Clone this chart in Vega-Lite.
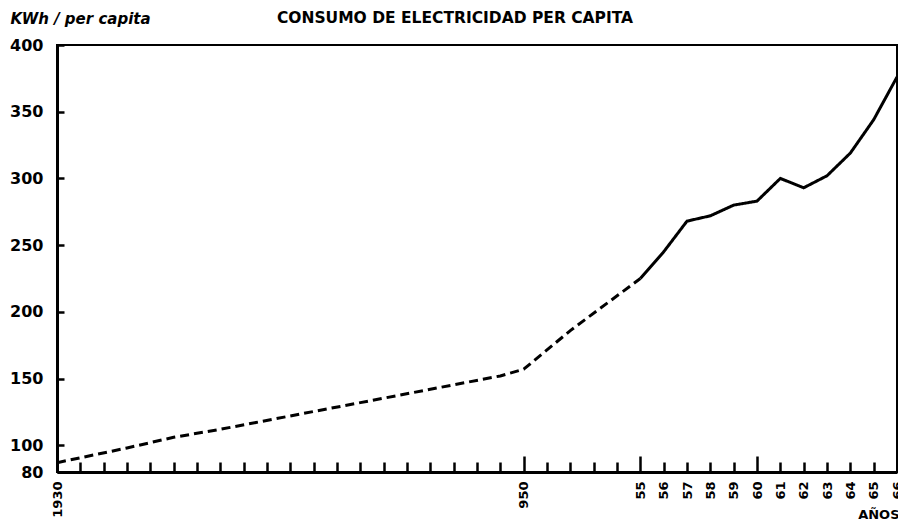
{
  "$schema": "https://vega.github.io/schema/vega-lite/v6.json",
  "width": 840,
  "height": 427,
  "autosize": {"type": "none"},
  "padding": {"left": 57, "top": 45, "right": 1, "bottom": 49},
  "background": "white",
  "title": {
    "text": "CONSUMO DE ELECTRICIDAD PER CAPITA",
    "font": "DejaVu Sans",
    "fontSize": 15.5,
    "fontWeight": "bold",
    "color": "black",
    "anchor": "middle",
    "baseline": "alphabetic",
    "dx": -22,
    "offset": -27
  },
  "config": {
    "view": {"stroke": "black", "strokeWidth": 2},
    "axis": {
      "domainColor": "black",
      "domainWidth": 3,
      "tickColor": "black",
      "tickWidth": 2.5,
      "labelColor": "black",
      "labelFont": "DejaVu Sans",
      "labelFontWeight": "bold",
      "grid": false
    }
  },
  "data": {
    "values": [
      {"year": 1930, "kwh": 87, "tramo": "estimado"},
      {"year": 1933, "kwh": 98, "tramo": "estimado"},
      {"year": 1935, "kwh": 106, "tramo": "estimado"},
      {"year": 1937, "kwh": 112, "tramo": "estimado"},
      {"year": 1940, "kwh": 122, "tramo": "estimado"},
      {"year": 1943, "kwh": 132, "tramo": "estimado"},
      {"year": 1946, "kwh": 142, "tramo": "estimado"},
      {"year": 1949, "kwh": 152, "tramo": "estimado"},
      {"year": 1950, "kwh": 157, "tramo": "estimado"},
      {"year": 1952, "kwh": 186, "tramo": "estimado"},
      {"year": 1955, "kwh": 225, "tramo": "estimado"},
      {"year": 1955, "kwh": 225, "tramo": "registrado"},
      {"year": 1956, "kwh": 245, "tramo": "registrado"},
      {"year": 1957, "kwh": 268, "tramo": "registrado"},
      {"year": 1958, "kwh": 272, "tramo": "registrado"},
      {"year": 1959, "kwh": 280, "tramo": "registrado"},
      {"year": 1960, "kwh": 283, "tramo": "registrado"},
      {"year": 1961, "kwh": 300, "tramo": "registrado"},
      {"year": 1962, "kwh": 293, "tramo": "registrado"},
      {"year": 1963, "kwh": 302, "tramo": "registrado"},
      {"year": 1964, "kwh": 319, "tramo": "registrado"},
      {"year": 1965, "kwh": 344, "tramo": "registrado"},
      {"year": 1966, "kwh": 376, "tramo": "registrado"}
    ]
  },
  "mark": {"type": "line", "color": "black", "strokeWidth": 3, "clip": true},
  "encoding": {
    "x": {
      "field": "year",
      "type": "quantitative",
      "scale": {"domain": [1930, 1966], "nice": false, "zero": false},
      "axis": {
        "values": [1930,1931,1932,1933,1934,1935,1936,1937,1938,1939,1940,1941,1942,1943,1944,1945,1946,1947,1948,1949,1950,1951,1952,1953,1954,1955,1956,1957,1958,1959,1960,1961,1962,1963,1964,1965,1966],
        "tickSize": {"condition": {"test": "datum.value == 1950 || datum.value == 1955 || datum.value == 1960", "value": -16}, "value": -10},
        "labelPadding": {"condition": {"test": "datum.value == 1950 || datum.value == 1955 || datum.value == 1960", "value": 25}, "value": 19},
        "labelExpr": "datum.value == 1930 ? '1930' : datum.value == 1950 ? '950' : datum.value >= 1955 ? '' + (datum.value - 1900) : ''",
        "labelAngle": -90,
        "labelAlign": "right",
        "labelBaseline": "middle",
        "labelFontSize": 13,
        "labelOverlap": false,
        "labelFlush": false,
        "labelBound": false,
        "title": "AÑOS",
        "titleFont": "DejaVu Sans",
        "titleFontSize": 13,
        "titleFontWeight": "bold",
        "titleColor": "black",
        "titleAnchor": "end",
        "titleAlign": "right",
        "titleBaseline": "alphabetic",
        "titleX": 842,
        "titleY": 46
      }
    },
    "y": {
      "field": "kwh",
      "type": "quantitative",
      "scale": {"domain": [80, 400], "nice": false, "zero": false},
      "axis": {
        "values": [80, 100, 150, 200, 250, 300, 350, 400],
        "tickSize": -7,
        "labelFontSize": 16,
        "labelPadding": 21,
        "labelAlign": "right",
        "labelBaseline": "middle",
        "labelOverlap": false,
        "labelFlush": false,
        "title": "KWh / per capita",
        "titleFont": "DejaVu Sans",
        "titleFontSize": 15,
        "titleFontWeight": "bold",
        "titleFontStyle": "italic",
        "titleColor": "black",
        "titleAngle": 0,
        "titleAlign": "left",
        "titleBaseline": "alphabetic",
        "titleX": -47,
        "titleY": -22
      }
    },
    "strokeDash": {
      "field": "tramo",
      "type": "nominal",
      "scale": {"domain": ["estimado", "registrado"], "range": [[9, 5], [1, 0]]},
      "legend": null
    }
  }
}
